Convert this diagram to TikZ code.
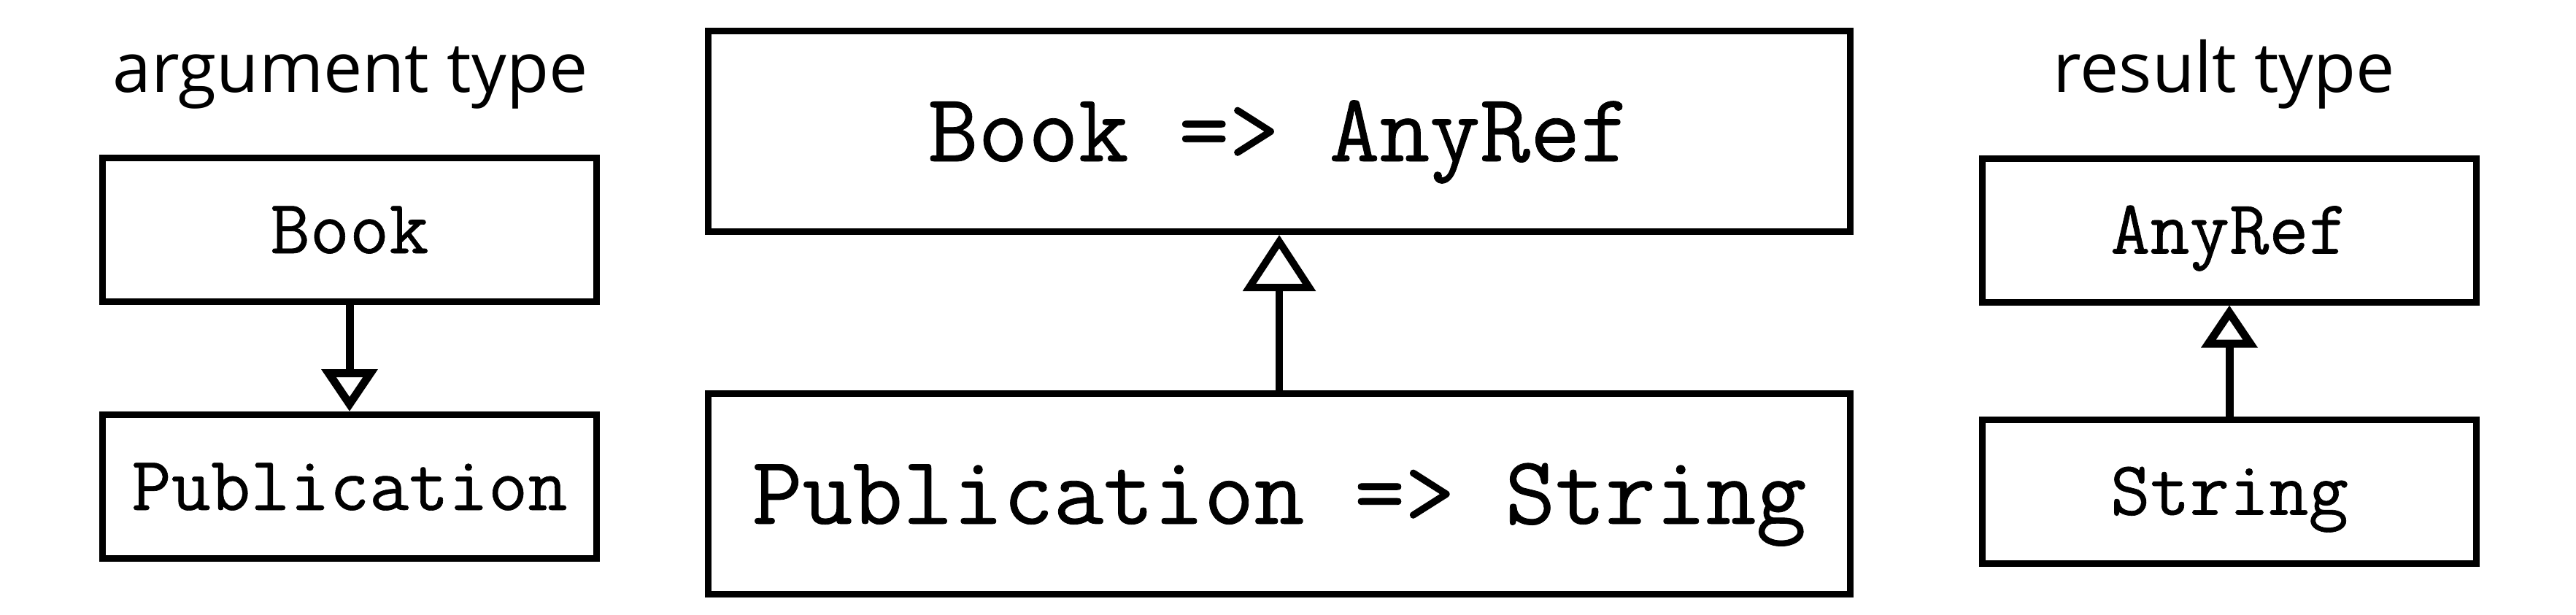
\documentclass[tikz,border=0pt]{standalone}
\usepackage{fontspec}
\newfontfamily\labelsans{Open Sans}
\newfontfamily\codemono{Latin Modern Mono}[FakeBold=0.6]
\usetikzlibrary{arrows.meta,positioning}

\begin{document}
\begin{tikzpicture}[
  node distance=1.46cm,
  typebox/.style={draw,line width=0.09cm,minimum width=6.77cm,minimum height=1.97cm,inner sep=0pt,text height=0.64cm,text depth=0pt,font=\fontsize{30}{36}\selectfont\codemono},
  funbox/.style={draw,line width=0.09cm,minimum width=15.65cm,minimum height=2.75cm,inner sep=0pt,text height=0.82cm,text depth=0pt,font=\fontsize{38}{46}\selectfont\codemono},
  heading/.style={font=\fontsize{27}{32}\selectfont\labelsans,anchor=base},
  subarrow/.style={-{Triangle[open,length=0.58cm,width=0.75cm]},line width=0.11cm},
  bigarrow/.style={-{Triangle[open,length=0.77cm,width=0.98cm]},line width=0.1cm}
]
\useasboundingbox (0,0) rectangle (35.30,8.42);
% argument side
\node[heading] (argtitle) at (4.80,7.16) {argument type};
\node[typebox] (book) at (4.79,5.27) {Book};
\node[typebox,below=of book] (publication) {Publication};
% function types
\node[funbox] (bookfun) at (17.53,6.62) {Book => AnyRef};
\node[funbox,below=2.13cm of bookfun] (pubfun) {Publication => String};
% result side
\node[heading] (restitle) at (30.48,7.16) {result type};
\node[typebox] (anyref) at (30.55,5.265) {AnyRef};
\node[typebox,below=1.52cm of anyref] (string) {String};
\draw[subarrow] (book) -- (publication);
\draw[bigarrow] (pubfun) -- (bookfun);
\draw[subarrow] (string) -- (anyref);
\end{tikzpicture}
\end{document}
